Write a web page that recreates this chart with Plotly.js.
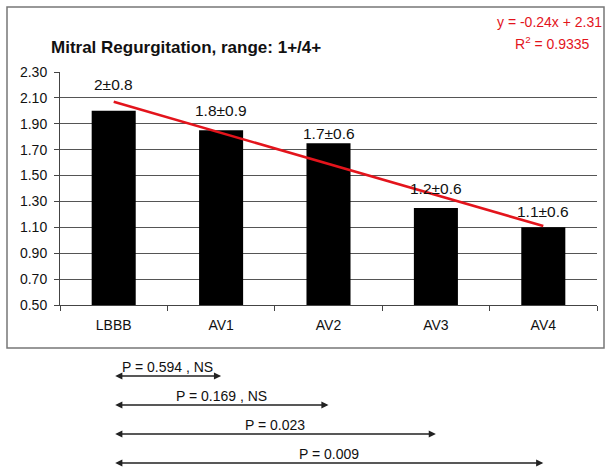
<!DOCTYPE html>
<html>
<head>
<meta charset="utf-8">
<script src="https://cdn.plot.ly/plotly-3.0.1.min.js"></script>
<style>
  html, body { margin: 0; padding: 0; background: #fff; }
  #chart { width: 606px; height: 468px; }
</style>
</head>
<body>
<div id="chart"></div>
<script>
// Mean mitral regurgitation grade per pacing mode
const categories = ['LBBB', 'AV1', 'AV2', 'AV3', 'AV4'];
const meanValues = [2.0, 1.85, 1.75, 1.25, 1.1];
const meanLabels = ['2', '1.8', '1.7', '1.2', '1.1'];
const sdLabels = ['0.8', '0.9', '0.6', '0.6', '0.6'];

// Pairwise comparisons against LBBB
const compareTo = ['AV1', 'AV2', 'AV3', 'AV4'];
const pLabels = ['P = 0.594 , NS', 'P = 0.169 , NS', 'P = 0.023', 'P = 0.009'];

// Least-squares linear trend over category index 1..n
function linearFit(ys) {
  const n = ys.length;
  const xs = ys.map((_, i) => i + 1);
  const mx = xs.reduce((a, b) => a + b, 0) / n;
  const my = ys.reduce((a, b) => a + b, 0) / n;
  let sxy = 0, sxx = 0, syy = 0;
  for (let i = 0; i < n; i++) {
    sxy += (xs[i] - mx) * (ys[i] - my);
    sxx += (xs[i] - mx) ** 2;
    syy += (ys[i] - my) ** 2;
  }
  const slope = sxy / sxx;
  const intercept = my - slope * mx;
  let ssRes = 0;
  for (let i = 0; i < n; i++) ssRes += (ys[i] - (slope * xs[i] + intercept)) ** 2;
  return { slope, intercept, r2: 1 - ssRes / syy, fitted: xs.map(x => slope * x + intercept) };
}
const fit = linearFit(meanValues);

// Plot-area geometry in pixels (used to place content outside the axes)
const W = 606, H = 468;
const M = { l: 60, r: 9, t: 72, b: 163 };
const plotW = W - M.l - M.r, plotH = H - M.t - M.b;
const px = x => (x - M.l) / plotW;
const py = y => (H - M.b - y) / plotH;

const FONT = 'Liberation Sans, Arial, sans-serif';
const RED = '#e3141c';
const INK = '#111';

const traces = [
  {
    type: 'bar',
    x: categories,
    y: meanValues,
    marker: { color: '#000' },
    width: 0.41,
    hoverinfo: 'skip'
  },
  {
    type: 'scatter',
    mode: 'lines',
    x: categories,
    y: fit.fitted,
    line: { color: RED, width: 2.5 },
    hoverinfo: 'skip'
  }
];

// Vertical offsets of the value labels above each bar (pixels)
const labelShiftY = [26, 20, 10, 19, 16];

const annotations = [];
categories.forEach((c, i) => {
  annotations.push({
    xref: 'x', yref: 'y', x: c, y: meanValues[i],
    text: meanLabels[i] + '±' + sdLabels[i],
    showarrow: false, xanchor: 'center', yanchor: 'middle',
    yshift: labelShiftY[i],
    font: { family: FONT, size: 15.5, color: INK }
  });
});

// Comparison arrows below the chart
const arrowY = [376, 405, 434, 463];
const textY = [367, 396, 425, 454];
compareTo.forEach((c, i) => {
  const j = categories.indexOf(c);
  annotations.push({
    xref: 'x', yref: 'paper', x: j, y: py(arrowY[i]),
    axref: 'x', ayref: 'paper', ax: 0, ay: py(arrowY[i]),
    text: '', showarrow: true, arrowside: 'end+start',
    arrowhead: 2, arrowsize: 1.1, arrowwidth: 1.3, arrowcolor: '#222',
    standoff: 0, startstandoff: 0
  });
  annotations.push({
    xref: 'x', yref: 'paper', x: j / 2, y: py(textY[i]),
    text: pLabels[i], showarrow: false, xanchor: 'center', yanchor: 'middle',
    font: { family: FONT, size: 14, color: INK }
  });
});

// Trend equation
const eq = 'y = ' + fit.slope.toFixed(2) + 'x + ' + fit.intercept.toFixed(2);
annotations.push({
  xref: 'paper', yref: 'paper', x: px(604), y: py(22),
  text: eq, showarrow: false, xanchor: 'right', yanchor: 'middle',
  font: { family: FONT, size: 14, color: RED }
});
annotations.push({
  xref: 'paper', yref: 'paper', x: px(552), y: py(43),
  text: 'R<sup>2</sup> = ' + fit.r2.toFixed(4), showarrow: false, xanchor: 'center', yanchor: 'middle',
  font: { family: FONT, size: 14, color: RED }
});

const layout = {
  width: W, height: H,
  margin: M,
  paper_bgcolor: '#fff',
  plot_bgcolor: '#fff',
  showlegend: false,
  title: {
    text: '<b>Mitral Regurgitation, range: 1+/4+</b>',
    font: { family: FONT, size: 17, color: INK },
    xref: 'container', yref: 'container',
    x: 51 / W, xanchor: 'left',
    y: 1 - 47 / H, yanchor: 'middle'
  },
  xaxis: {
    type: 'category',
    showline: true, linecolor: '#444', linewidth: 1,
    ticks: 'outside', tickson: 'boundaries', ticklen: 5, tickcolor: '#444',
    ticklabelstandoff: 7,
    tickfont: { family: FONT, size: 14, color: INK },
    showgrid: false, fixedrange: true
  },
  yaxis: {
    range: [0.5, 2.3],
    tick0: 0.5, dtick: 0.2, tickformat: '.2f',
    showline: true, linecolor: '#444', linewidth: 1,
    ticks: 'outside', ticklen: 5, tickcolor: '#444',
    ticklabelstandoff: 4,
    gridcolor: '#555', gridwidth: 1,
    zeroline: false,
    tickfont: { family: FONT, size: 14, color: INK },
    fixedrange: true
  },
  shapes: [{
    type: 'rect', xref: 'paper', yref: 'paper',
    x0: px(7), x1: px(604), y0: py(348), y1: py(7),
    line: { color: '#777', width: 1.5 }, fillcolor: 'rgba(0,0,0,0)', layer: 'below'
  }],
  annotations: annotations,
  bargap: 0.59
};

Plotly.newPlot('chart', traces, layout, { displayModeBar: false, staticPlot: true });
</script>
</body>
</html>
